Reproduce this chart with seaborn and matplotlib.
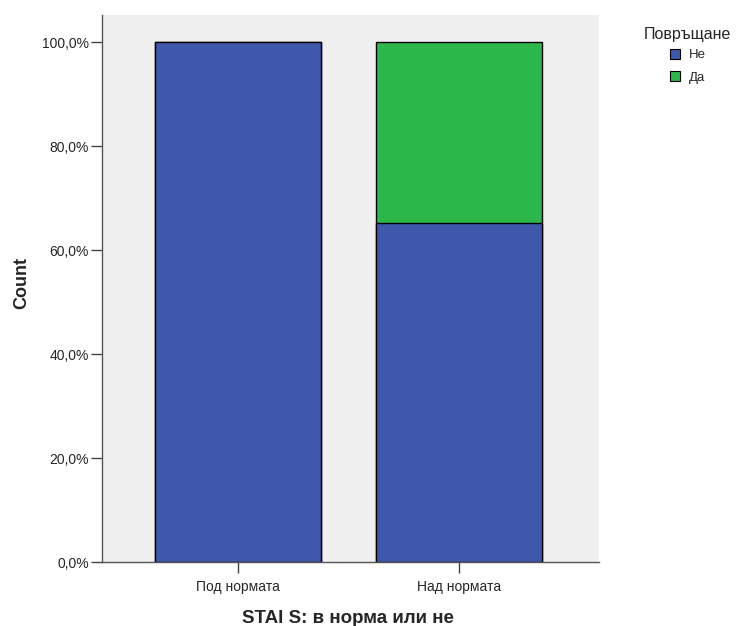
import matplotlib
matplotlib.use("Agg")
import matplotlib.pyplot as plt
import seaborn as sns
import pandas as pd
from matplotlib.patches import Patch
from matplotlib.ticker import FuncFormatter

categories = ["Под нормата", "Над нормата"]
ne_pct = [100.0, 65.2]
da_pct = [0.0, 34.8]
legend_title = "Повръщане"
series_names = ["Не", "Да"]
yticks = [0, 20, 40, 60, 80, 100]

blue = "#3E58AC"
green = "#2DB84B"

sns.set_style("white")
plt.rcParams['font.family'] = ['Liberation Sans', 'DejaVu Sans']

df = pd.DataFrame({"cat": categories, "ne": ne_pct, "da": da_pct})
df["total"] = df["ne"] + df["da"]

fig = plt.figure(figsize=(7.37, 6.26), dpi=100)
ax = fig.add_axes([102/737, 64/626, 497/737, 547/626])
ax.set_facecolor("#F0F0F0")

sns.barplot(data=df, x="cat", y="total", color=green, saturation=1, width=0.75,
            edgecolor="black", linewidth=1.0, ax=ax, order=categories)
sns.barplot(data=df, x="cat", y="ne", color=blue, saturation=1, width=0.75,
            edgecolor="black", linewidth=1.0, ax=ax, order=categories)

ax.set_xlim(-0.615, 1.633)
ax.set_ylim(0, 105.2)
ax.set_yticks(yticks)
ax.yaxis.set_major_formatter(FuncFormatter(lambda v, p: f"{v:.1f}%".replace(".", ",")))

for s in ["top", "right"]:
    ax.spines[s].set_visible(False)
for s in ["left", "bottom"]:
    ax.spines[s].set_color("#555555")
    ax.spines[s].set_linewidth(1.0)

ax.tick_params(axis="y", direction="out", length=8, width=1, color="#444444",
               labelsize=10, pad=1.5)
ax.tick_params(axis="x", direction="out", length=8, width=1, color="#444444",
               labelsize=10, pad=5)
ax.tick_params(left=True, bottom=True)

ax.set_xlabel("STAI S: в норма или не", fontsize=13.5, fontweight="bold")
ax.set_ylabel("Count", fontsize=13, fontweight="bold")
ax.xaxis.set_label_coords(0.495, -0.088)
ax.yaxis.set_label_coords(-0.145, 0.51)

fig.text(687/737, 1 - 35/626, legend_title, fontsize=11.5, ha="center", va="center")
handles = [Patch(facecolor=blue, edgecolor="black", linewidth=0.8),
           Patch(facecolor=green, edgecolor="black", linewidth=0.8)]
fig.legend(handles, series_names, loc="upper left",
           bbox_to_anchor=(670/737, 1 - 49/626), frameon=False, fontsize=9.5,
           handlelength=0.75, handleheight=0.75, handletextpad=0.7,
           labelspacing=0.75, borderpad=0, borderaxespad=0)

fig.savefig("out.png", dpi=100)
